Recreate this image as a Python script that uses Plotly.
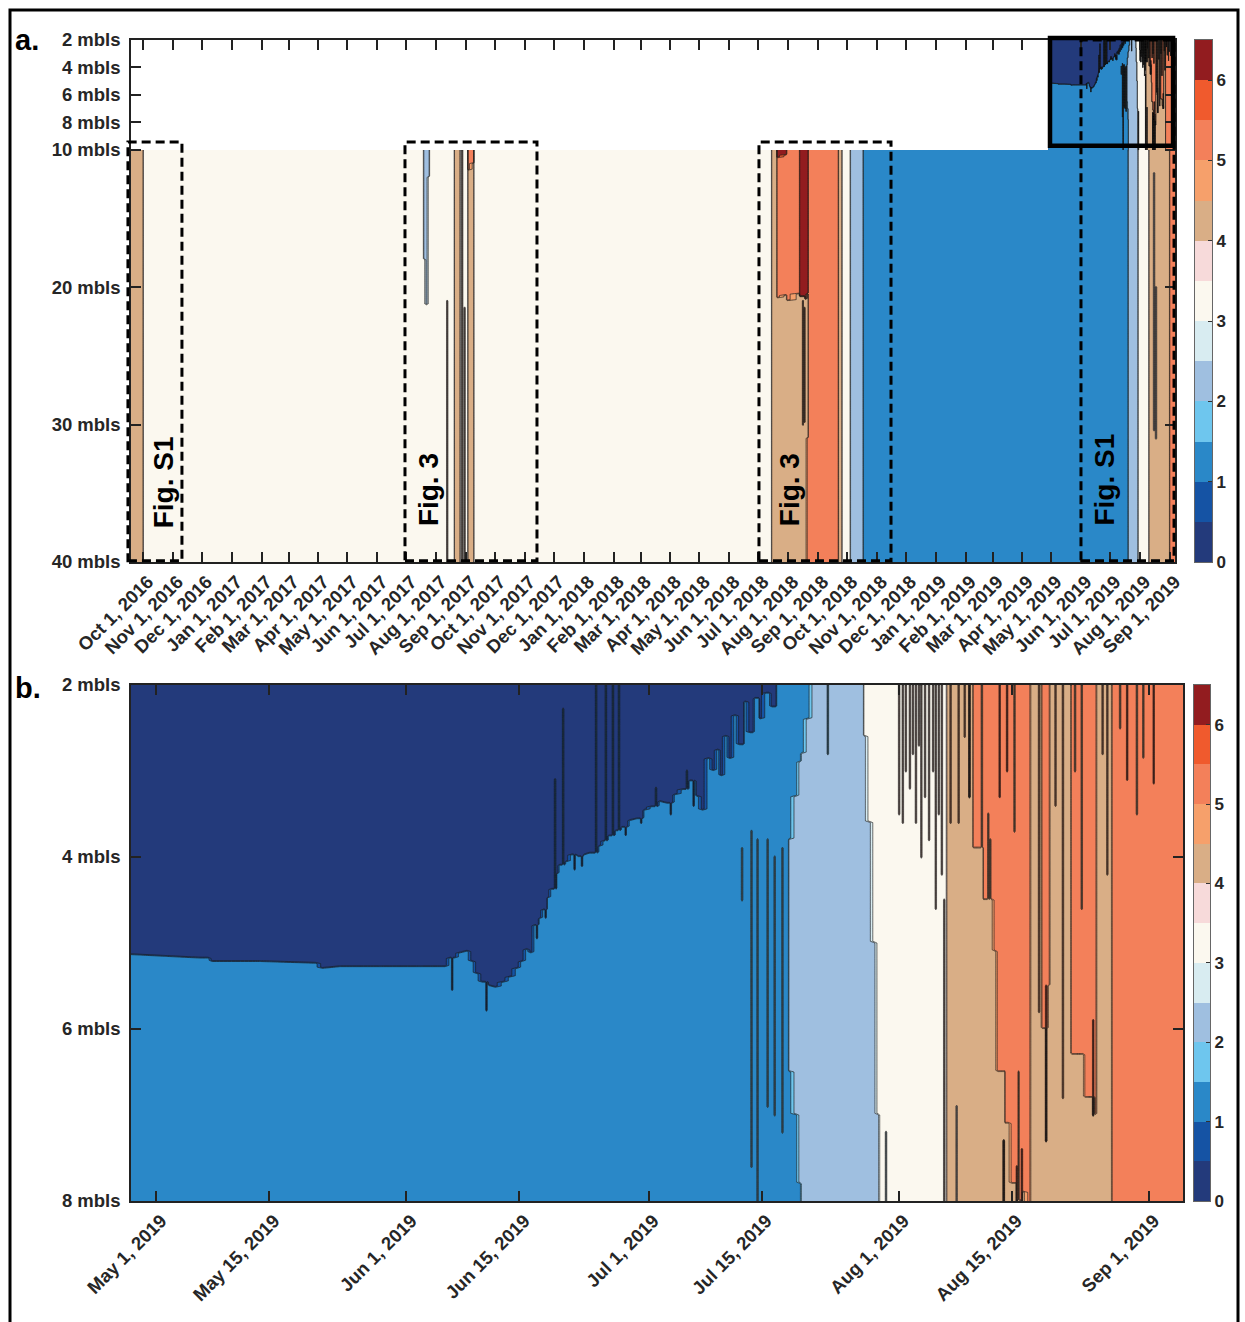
import numpy as np
import pandas as pd
import plotly.graph_objects as go

W, H = 1245, 1322

# ---------------- value classes (centre of each 0.5-wide band) ----------------
N, B, L, C, T, O, R = 0.25, 1.25, 2.25, 3.25, 4.25, 5.25, 6.25

level_start, level_end, level_step = 0.0, 6.5, 0.5
band_colors = ["#233a7b", "#1553a4", "#2a88c8", "#6ec6ee", "#9fbfe0", "#d8ecf1",
               "#fbf8ef", "#f7dada", "#d9ae86", "#f6a06b", "#f3805a", "#f05a2d", "#921c1f"]
cbar_ticks = [0, 1, 2, 3, 4, 5, 6]

# ---------------- panel a: 10-40 mbls, whole record ----------------
a_xrange = ["2016-09-18 14:00", "2019-09-06 05:00"]
a_depth_ticks = [2, 4, 6, 8, 10, 20, 30, 40]

a_deep_dates = [
    "2016-09-18 14:00", "2016-09-30 18:00", "2016-10-01 18:00", "2017-07-18 12:00",
    "2017-07-19 12:00", "2017-07-22 00:00", "2017-07-24 12:00", "2017-07-25 12:00",
    "2017-08-11 12:00", "2017-08-19 12:00", "2017-08-20 06:00", "2017-08-25 12:00",
    "2017-08-26 06:00", "2017-09-02 12:00", "2017-09-03 06:00", "2017-09-08 18:00",
    "2017-09-09 12:00", "2018-07-14 12:00", "2018-07-15 06:00", "2018-07-20 00:00",
    "2018-07-20 18:00", "2018-07-30 00:00", "2018-07-31 00:00", "2018-08-12 12:00",
    "2018-08-13 06:00", "2018-08-19 00:00", "2018-08-21 12:00", "2018-08-22 06:00",
    "2018-09-21 18:00", "2018-09-22 12:00", "2018-09-25 12:00", "2018-09-26 06:00",
    "2018-10-04 00:00", "2018-10-05 00:00", "2018-10-17 12:00", "2018-10-18 06:00",
    "2019-07-19 06:00", "2019-07-20 00:00", "2019-07-29 12:00", "2019-07-30 06:00",
    "2019-08-09 18:00", "2019-08-10 12:00", "2019-08-31 06:00", "2019-09-01 00:00",
    "2019-09-06 05:00",
]
a_deep_profiles = [
    [(T, 40)], [(T, 40)], [(C, 40)], [(C, 40)],
    [(L, 18.0), (C, 40)], [(L, 21.3), (C, 40)], [(L, 12.0), (C, 40)], [(C, 40)],
    [(C, 40)], [(C, 40)], [(T, 40)], [(T, 40)],
    [(C, 40)], [(C, 40)], [(O, 11.5), (T, 40)], [(O, 11.0), (T, 40)],
    [(C, 40)], [(C, 40)], [(T, 40)], [(T, 40)],
    [(R, 10.6), (O, 20.8), (T, 40)], [(R, 10.4), (O, 20.6), (T, 40)], [(O, 21.0), (T, 40)], [(O, 20.5), (T, 40)],
    [(R, 20.7), (T, 40)], [(R, 20.9), (T, 40)], [(R, 20.5), (T, 31.0), (O, 40)], [(O, 40)],
    [(O, 40)], [(T, 40)], [(T, 40)], [(C, 40)],
    [(C, 40)], [(L, 40)], [(L, 40)], [(B, 40)],
    [(B, 40)], [(L, 40)], [(L, 40)], [(C, 40)],
    [(C, 40)], [(T, 40)], [(T, 40)], [(O, 40)],
    [(O, 40)],
]
# narrow tongues: (date, value, from depth, to depth)
a_deep_spikes = [
    ("2017-08-12 12:00", T, 21.0, 40), ("2017-08-28 00:00", T, 10, 40),
    ("2017-08-30 12:00", T, 21.5, 40), ("2018-08-16 12:00", O, 21.0, 30.0),
    ("2018-08-18 00:00", O, 21.5, 29.8), ("2019-08-15 12:00", C, 11.7, 30.4),
    ("2019-08-17 12:00", C, 20.0, 31.0),
]

a_fig_boxes = [  # (start, end, top depth, bottom depth)
    ("2016-09-15 10:00", "2016-11-10 10:00", 9.42, 39.9),
    ("2017-06-29 17:00", "2017-11-13 14:00", 9.42, 39.9),
    ("2018-07-01 19:00", "2018-11-15 17:00", 9.42, 39.9),
    ("2019-05-31 17:00", "2019-09-05 05:00", 2.0, 39.9),
]
a_zoom_box = ("2019-04-29 14:00", "2019-09-04 05:00", 1.85, 9.7)
a_fig_labels = [
    ("2016-10-21 17:00", 34.2, "Fig. S1"), ("2017-07-23 12:00", 34.7, "Fig. 3"),
    ("2018-08-01 22:00", 34.7, "Fig. 3"), ("2019-06-25 14:00", 34.0, "Fig. S1"),
]

# ---------------- panel b: 2-8 mbls, Apr-Sep 2019 (also top of panel a) ----------------
b_xrange = ["2019-04-27 21:00", "2019-09-05 05:00"]
b_depth_ticks = [2, 4, 6, 8]
b_tick_dates = ["2019-05-01", "2019-05-15", "2019-06-01", "2019-06-15", "2019-07-01",
                "2019-07-15", "2019-08-01", "2019-08-15", "2019-09-01"]

# depth of the lower edge of the dark-blue layer
b_navy_dates = [
    "2019-04-27 21:00", "2019-05-02 02:00", "2019-05-06 10:00", "2019-05-07 10:00",
    "2019-05-07 22:00", "2019-05-13 20:00", "2019-05-20 17:00", "2019-05-21 14:00",
    "2019-05-23 19:00", "2019-05-28 17:00", "2019-06-02 17:00", "2019-06-05 19:00",
    "2019-06-06 10:00", "2019-06-06 22:00", "2019-06-07 15:00", "2019-06-08 12:00",
    "2019-06-09 03:00", "2019-06-09 17:00", "2019-06-10 09:00", "2019-06-11 05:00",
    "2019-06-12 00:00", "2019-06-13 00:00", "2019-06-13 20:00", "2019-06-14 17:00",
    "2019-06-15 07:00", "2019-06-15 22:00", "2019-06-16 10:00", "2019-06-16 22:00",
    "2019-06-17 12:00", "2019-06-18 00:00", "2019-06-18 12:00", "2019-06-19 00:00",
    "2019-06-19 16:00", "2019-06-20 00:00", "2019-06-20 19:00", "2019-06-21 12:00",
    "2019-06-22 07:00", "2019-06-23 00:00", "2019-06-23 17:00", "2019-06-24 22:00",
    "2019-06-25 12:00", "2019-06-26 02:00", "2019-06-26 23:00", "2019-06-27 17:00",
    "2019-06-28 17:00", "2019-06-29 14:00", "2019-06-30 12:00", "2019-07-01 10:00",
    "2019-07-02 10:00", "2019-07-03 07:00", "2019-07-04 07:00", "2019-07-05 07:00",
    "2019-07-06 02:00", "2019-07-07 00:00", "2019-07-07 17:00", "2019-07-08 10:00",
    "2019-07-09 00:00", "2019-07-09 14:00", "2019-07-10 00:00", "2019-07-10 14:00",
    "2019-07-11 02:00", "2019-07-11 17:00", "2019-07-12 07:00", "2019-07-12 22:00",
    "2019-07-13 14:00", "2019-07-14 05:00", "2019-07-14 19:00", "2019-07-15 14:00",
    "2019-07-16 07:00", "2019-07-16 22:00",
]
b_navy_depth = [
    5.14, 5.15, 5.17, 5.18, 5.22, 5.22, 5.23, 5.29, 5.27, 5.27, 5.28, 5.27,
    5.18, 5.17, 5.12, 5.10, 5.22, 5.36, 5.45, 5.50, 5.52, 5.45, 5.40, 5.30,
    5.22, 5.08, 5.12, 4.80, 4.72, 4.62, 4.48, 4.38, 4.20, 4.10, 4.05, 3.97,
    4.00, 3.97, 3.95, 3.88, 3.82, 3.75, 3.70, 3.65, 3.58, 3.55, 3.45, 3.42,
    3.35, 3.38, 3.28, 3.22, 3.12, 3.30, 3.45, 2.85, 3.00, 2.75, 3.05, 2.60,
    2.85, 2.35, 2.70, 2.20, 2.55, 2.15, 2.40, 2.10, 2.25, 2.00,
]
b_band_dates = [
    "2019-07-17 07:00", "2019-07-18 07:00", "2019-07-18 10:00", "2019-07-19 05:00",
    "2019-07-19 18:00", "2019-07-20 00:00", "2019-07-20 17:00", "2019-07-21 10:00",
    "2019-07-27 14:00", "2019-07-27 17:00", "2019-07-28 08:00", "2019-07-28 22:00",
    "2019-07-29 10:00", "2019-07-29 17:00", "2019-08-06 20:00", "2019-08-07 00:00",
    "2019-08-10 03:00", "2019-08-10 06:00", "2019-08-11 12:00", "2019-08-12 22:00",
    "2019-08-13 07:00", "2019-08-14 04:00", "2019-08-15 01:00", "2019-08-15 18:00",
    "2019-08-16 09:00", "2019-08-17 04:00", "2019-08-17 10:00", "2019-08-18 14:00",
    "2019-08-18 19:00", "2019-08-19 14:00", "2019-08-19 19:00", "2019-08-22 05:00",
    "2019-08-22 11:00", "2019-08-24 03:00", "2019-08-25 09:00", "2019-08-25 14:00",
    "2019-08-27 07:00", "2019-08-27 12:00", "2019-09-05 05:00",
]
b_band_profiles = [
    [(B, 10)], [(B, 10)], [(B, 3.8), (L, 6.5), (B, 10)], [(B, 3.3), (L, 7.0), (B, 10)],
    [(B, 2.9), (L, 7.8), (B, 10)], [(B, 2.8), (L, 10)], [(B, 2.4), (L, 10)], [(L, 10)],
    [(L, 10)], [(C, 2.6), (L, 10)], [(C, 3.6), (L, 10)], [(C, 5.0), (L, 10)],
    [(C, 7.0), (L, 10)], [(C, 10)], [(C, 10)], [(T, 10)],
    [(T, 10)], [(O, 3.9), (T, 10)], [(O, 4.5), (T, 10)], [(O, 5.1), (T, 10)],
    [(O, 6.5), (T, 10)], [(O, 7.1), (T, 10)], [(O, 7.8), (T, 10)], [(O, 8.0), (T, 10)],
    [(O, 7.9), (T, 10)], [(O, 8.2), (T, 10)], [(T, 10)], [(T, 10)],
    [(O, 6.0), (T, 10)], [(O, 5.5), (T, 10)], [(T, 10)], [(T, 10)],
    [(O, 6.3), (T, 10)], [(O, 6.8), (T, 10)], [(O, 7.0), (T, 10)], [(T, 10)],
    [(T, 10)], [(O, 10)], [(O, 10)],
]
b_spikes = [
    ("2019-06-06 16:00", N, 5.0, 5.55), ("2019-06-10 22:00", N, 5.3, 5.78),
    ("2019-06-17 04:00", N, 4.6, 4.95), ("2019-06-18 06:00", N, 4.4, 4.7),
    ("2019-06-19 10:00", B, 3.1, 5.0), ("2019-06-20 10:00", B, 2.27, 5.0),
    ("2019-06-21 20:00", N, 3.9, 4.15), ("2019-06-22 18:00", N, 3.9, 4.1),
    ("2019-06-24 12:00", B, 2.0, 5.0), ("2019-06-25 17:00", B, 2.0, 5.0),
    ("2019-06-26 14:00", B, 2.0, 5.0), ("2019-06-27 08:00", B, 2.0, 5.0),
    ("2019-06-28 04:00", N, 3.5, 3.75), ("2019-06-30 02:00", N, 3.4, 3.6),
    ("2019-07-01 22:00", B, 3.2, 3.5), ("2019-07-03 18:00", N, 3.2, 3.5),
    ("2019-07-05 18:00", B, 3.0, 3.3), ("2019-07-06 14:00", N, 3.0, 3.4),
    ("2019-07-12 14:00", L, 3.9, 4.5), ("2019-07-13 18:00", L, 3.7, 7.6),
    ("2019-07-14 12:00", L, 3.8, 10), ("2019-07-15 18:00", L, 3.8, 6.9),
    ("2019-07-16 15:00", L, 4.0, 7.0), ("2019-07-17 14:00", L, 3.9, 7.2),
    ("2019-07-23 05:00", B, 2.0, 2.8), ("2019-07-30 10:00", L, 7.2, 10),
    ("2019-08-01 01:00", T, 2.0, 3.5), ("2019-08-01 12:00", T, 2.0, 3.6),
    ("2019-08-01 21:00", T, 2.0, 3.0), ("2019-08-02 09:00", T, 2.0, 3.2),
    ("2019-08-02 18:00", T, 2.0, 2.8), ("2019-08-03 03:00", T, 2.0, 3.6),
    ("2019-08-03 12:00", T, 2.0, 2.7), ("2019-08-03 19:00", T, 2.0, 4.0),
    ("2019-08-04 06:00", T, 2.0, 3.3), ("2019-08-04 18:00", T, 2.0, 3.8),
    ("2019-08-05 06:00", T, 2.0, 3.0), ("2019-08-05 14:00", T, 2.0, 4.6),
    ("2019-08-05 23:00", T, 2.0, 3.5), ("2019-08-06 08:00", T, 2.0, 4.2),
    ("2019-08-06 15:00", T, 4.5, 10), ("2019-08-07 10:00", O, 2.0, 3.6),
    ("2019-08-08 04:00", C, 6.9, 10), ("2019-08-08 10:00", O, 2.0, 3.6),
    ("2019-08-09 04:00", O, 2.0, 2.6), ("2019-08-09 18:00", R, 2.0, 3.3),
    ("2019-08-11 07:00", T, 2.0, 4.7), ("2019-08-12 02:00", T, 3.5, 6.6),
    ("2019-08-12 08:00", T, 3.8, 6.4), ("2019-08-13 12:00", R, 2.0, 3.3),
    ("2019-08-14 00:00", R, 7.3, 10), ("2019-08-14 10:00", R, 2.0, 3.0),
    ("2019-08-15 08:00", T, 2.0, 3.7), ("2019-08-15 15:00", R, 7.6, 10),
    ("2019-08-15 20:00", T, 6.5, 10), ("2019-08-16 06:00", R, 7.4, 10),
    ("2019-08-18 09:00", O, 2.0, 5.8), ("2019-08-19 06:00", R, 5.5, 7.3),
    ("2019-08-20 10:00", O, 2.0, 3.4), ("2019-08-21 08:00", O, 2.0, 6.8),
    ("2019-08-22 20:00", T, 2.0, 3.0), ("2019-08-23 16:00", T, 2.0, 4.6),
    ("2019-08-25 02:00", R, 5.9, 7.0), ("2019-08-26 06:00", O, 2.0, 2.8),
    ("2019-08-26 20:00", O, 2.0, 4.2), ("2019-08-28 10:00", T, 2.0, 2.5),
    ("2019-08-29 07:00", R, 2.0, 3.1), ("2019-08-30 12:00", T, 2.0, 3.5),
    ("2019-08-31 07:00", T, 2.0, 2.85), ("2019-09-01 14:00", R, 2.0, 3.15),
]

# ---------------- grid construction ----------------
def profile_values(prof, depths):
    vals = np.full(depths.shape, prof[-1][0], dtype=float)
    for v, bottom in reversed(prof[:-1]):
        vals[depths < bottom - 1e-9] = v
    return vals


def build_grid(dates, profiles, spikes, depths, half_width):
    t = pd.to_datetime(pd.Series(dates)).tolist()
    cols = {ti: profile_values(p, depths) for ti, p in zip(t, profiles)}
    spike_cols, neigh = {}, {}
    tv = np.array([x.value for x in t])
    for sd, v, a, b in spikes:
        ts = pd.Timestamp(sd)
        idx = max(int(np.searchsorted(tv, ts.value, side="right")) - 1, 0)
        base = profile_values(profiles[idx], depths)
        s = base.copy()
        s[(depths >= a - 1e-9) & (depths <= b + 1e-9)] = v
        spike_cols[ts] = s
        for nt in (ts - half_width, ts + half_width):
            neigh.setdefault(nt, base)
    allc = dict(neigh)
    allc.update(cols)
    allc.update(spike_cols)
    keys = sorted(allc)
    z = np.column_stack([allc[k] for k in keys]).astype(np.float32)
    return [k.strftime("%Y-%m-%d %H:%M:%S") for k in keys], z


deep_depths = np.round(np.arange(10, 40.0001, 0.1), 3)
deep_x, deep_z = build_grid(a_deep_dates, a_deep_profiles, a_deep_spikes,
                            deep_depths, pd.Timedelta(days=1))

b_dates_all = b_navy_dates + b_band_dates
b_profiles_all = [[(N, d), (B, 10)] if d > 2.0 else [(B, 10)] for d in b_navy_depth] + b_band_profiles
shallow_depths = np.round(np.arange(2, 10.0001, 0.02), 3)
b_x, b_z = build_grid(b_dates_all, b_profiles_all, b_spikes,
                      shallow_depths, pd.Timedelta(hours=3))

# colour scales (contour fill colour is taken at band centres)
levels = np.arange(level_start, level_end + 1e-9, level_step)
nlev = len(levels)            # 14 levels -> band j centre at s=(j+1)/nlev
nb = len(band_colors)
cs_contour = []
for j, col in enumerate(band_colors):
    lo = 0.0 if j == 0 else (j + 0.5) / nlev
    hi = 1.0 if j == nb - 1 else (j + 1.5) / nlev
    cs_contour += [[lo, col], [hi, col]]
cs_bar = []
for j, col in enumerate(band_colors):
    cs_bar += [[j / nb, col], [(j + 1) / nb, col]]
band_centres = [(levels[j] + levels[j + 1]) / 2 for j in range(nb)]

# ---------------- layout geometry ----------------
ax_a = dict(x=[131 / W, 1175 / W], y=[1 - 562 / H, 1 - 40 / H])
ax_b = dict(x=[131 / W, 1183 / W], y=[1 - 1201 / H, 1 - 685 / H])
cb_a = dict(x=[1195 / W, 1212 / W], y=ax_a["y"])
cb_b = dict(x=[1194 / W, 1210 / W], y=ax_b["y"])

TXT = "#262626"
tick_font = dict(family="Liberation Sans, Arial, sans-serif", size=18.5, color=TXT, weight="bold")


def contour(x, y, z, xa, ya):
    return go.Contour(
        x=x, y=y, z=z, xaxis=xa, yaxis=ya, autocontour=False,
        contours=dict(start=level_start, end=level_end, size=level_step,
                      coloring="fill", showlines=True),
        line=dict(color="#1c1c1c", width=0.7, smoothing=0),
        colorscale=cs_contour, showscale=False, hoverinfo="skip",
    )


fig = go.Figure()
fig.add_trace(contour(deep_x, deep_depths, deep_z, "x", "y"))
fig.add_trace(contour(b_x, shallow_depths, b_z, "x", "y"))
fig.add_trace(contour(b_x, shallow_depths, b_z, "x2", "y2"))
for xa, ya in (("x3", "y3"), ("x4", "y4")):
    fig.add_trace(go.Heatmap(x=[0], y=band_centres, z=[[v] for v in band_centres],
                             colorscale=cs_bar, zmin=level_start, zmax=level_end,
                             showscale=False, hoverinfo="skip", xaxis=xa, yaxis=ya))

axis_common = dict(showgrid=False, zeroline=False, showline=True, linecolor="#222",
                   linewidth=1.5, ticks="inside", ticklen=10, tickwidth=1.5,
                   tickcolor="#222", mirror="ticks", tickfont=tick_font, automargin=False)
xaxis_extra = dict(type="date", tickformat="%b %-d, %Y", tickangle=-45, ticklabelshift=5)
yaxis_extra = dict(ticklabelstandoff=5)

fig.update_layout(
    width=W, height=H, margin=dict(l=0, r=0, t=0, b=0, autoexpand=False),
    paper_bgcolor="white", plot_bgcolor="white", showlegend=False,
    xaxis=dict(axis_common, **xaxis_extra, domain=ax_a["x"], anchor="y",
               range=a_xrange, dtick="M1", tick0="2016-10-01"),
    yaxis=dict(axis_common, **yaxis_extra, domain=ax_a["y"], anchor="x", range=[40, 2],
               tickvals=a_depth_ticks, ticktext=[f"{d} mbls" for d in a_depth_ticks]),
    xaxis2=dict(axis_common, **xaxis_extra, domain=ax_b["x"], anchor="y2",
                range=b_xrange, tickvals=b_tick_dates),
    yaxis2=dict(axis_common, **yaxis_extra, domain=ax_b["y"], anchor="x2", range=[8, 2],
                tickvals=b_depth_ticks, ticktext=[f"{d} mbls" for d in b_depth_ticks]),
)
for n, cb in ((3, cb_a), (4, cb_b)):
    fig.layout[f"xaxis{n}"] = dict(domain=cb["x"], anchor=f"y{n}", range=[-0.5, 0.5],
                                   showticklabels=False, ticks="", showgrid=False,
                                   zeroline=False, showline=True, mirror=True,
                                   linecolor="#666", linewidth=1, automargin=False)
    fig.layout[f"yaxis{n}"] = dict(domain=cb["y"], anchor=f"x{n}", range=[level_start, level_end],
                                   side="right", tickvals=cbar_ticks, ticks="inside",
                                   ticklen=4, tickcolor="#333", showgrid=False, zeroline=False,
                                   showline=True, mirror=True, linecolor="#666", linewidth=1,
                                   tickfont=dict(tick_font, size=17), automargin=False)


def px_date(d, rng, dom):
    t, t0, t1 = (pd.Timestamp(v).value for v in (d, rng[0], rng[1]))
    return dom[0] + (t - t0) / (t1 - t0) * (dom[1] - dom[0])


def py_depth(d, rng, dom):
    return dom[0] + (d - rng[0]) / (rng[1] - rng[0]) * (dom[1] - dom[0])


shapes = []
for x0, x1, d0, d1 in a_fig_boxes:
    shapes.append(dict(type="rect", xref="paper", yref="paper",
                       x0=px_date(x0, a_xrange, ax_a["x"]), x1=px_date(x1, a_xrange, ax_a["x"]),
                       y0=py_depth(d1, [40, 2], ax_a["y"]), y1=py_depth(d0, [40, 2], ax_a["y"]),
                       line=dict(color="black", width=3, dash="9px,5px")))
x0, x1, d0, d1 = a_zoom_box
shapes.append(dict(type="rect", xref="paper", yref="paper",
                   x0=px_date(x0, a_xrange, ax_a["x"]), x1=px_date(x1, a_xrange, ax_a["x"]),
                   y0=py_depth(d1, [40, 2], ax_a["y"]), y1=py_depth(d0, [40, 2], ax_a["y"]),
                   line=dict(color="black", width=4.5)))
shapes.append(dict(type="rect", xref="paper", yref="paper", x0=10 / W, x1=1238 / W,
                   y0=-0.02, y1=1 - 10 / H, line=dict(color="black", width=3)))
fig.update_layout(shapes=shapes)

ann = []
for d, depth, txt in a_fig_labels:
    ann.append(dict(x=d, y=depth, xref="x", yref="y", text=txt, showarrow=False,
                    textangle=-90, font=dict(family="Liberation Sans, Arial", size=28,
                                             color="black", weight="bold")))
for txt, yy in (("a.", 40), ("b.", 688)):
    ann.append(dict(x=13 / W, y=1 - yy / H, xref="paper", yref="paper", text=txt,
                    showarrow=False, xanchor="left", yanchor="middle",
                    font=dict(family="Liberation Sans, Arial", size=29, color="black",
                              weight="bold")))
fig.update_layout(annotations=ann)

fig.write_html("out.html", config={"displayModeBar": False},
               post_script="document.body.style.margin='0';document.body.style.overflow='hidden';")
